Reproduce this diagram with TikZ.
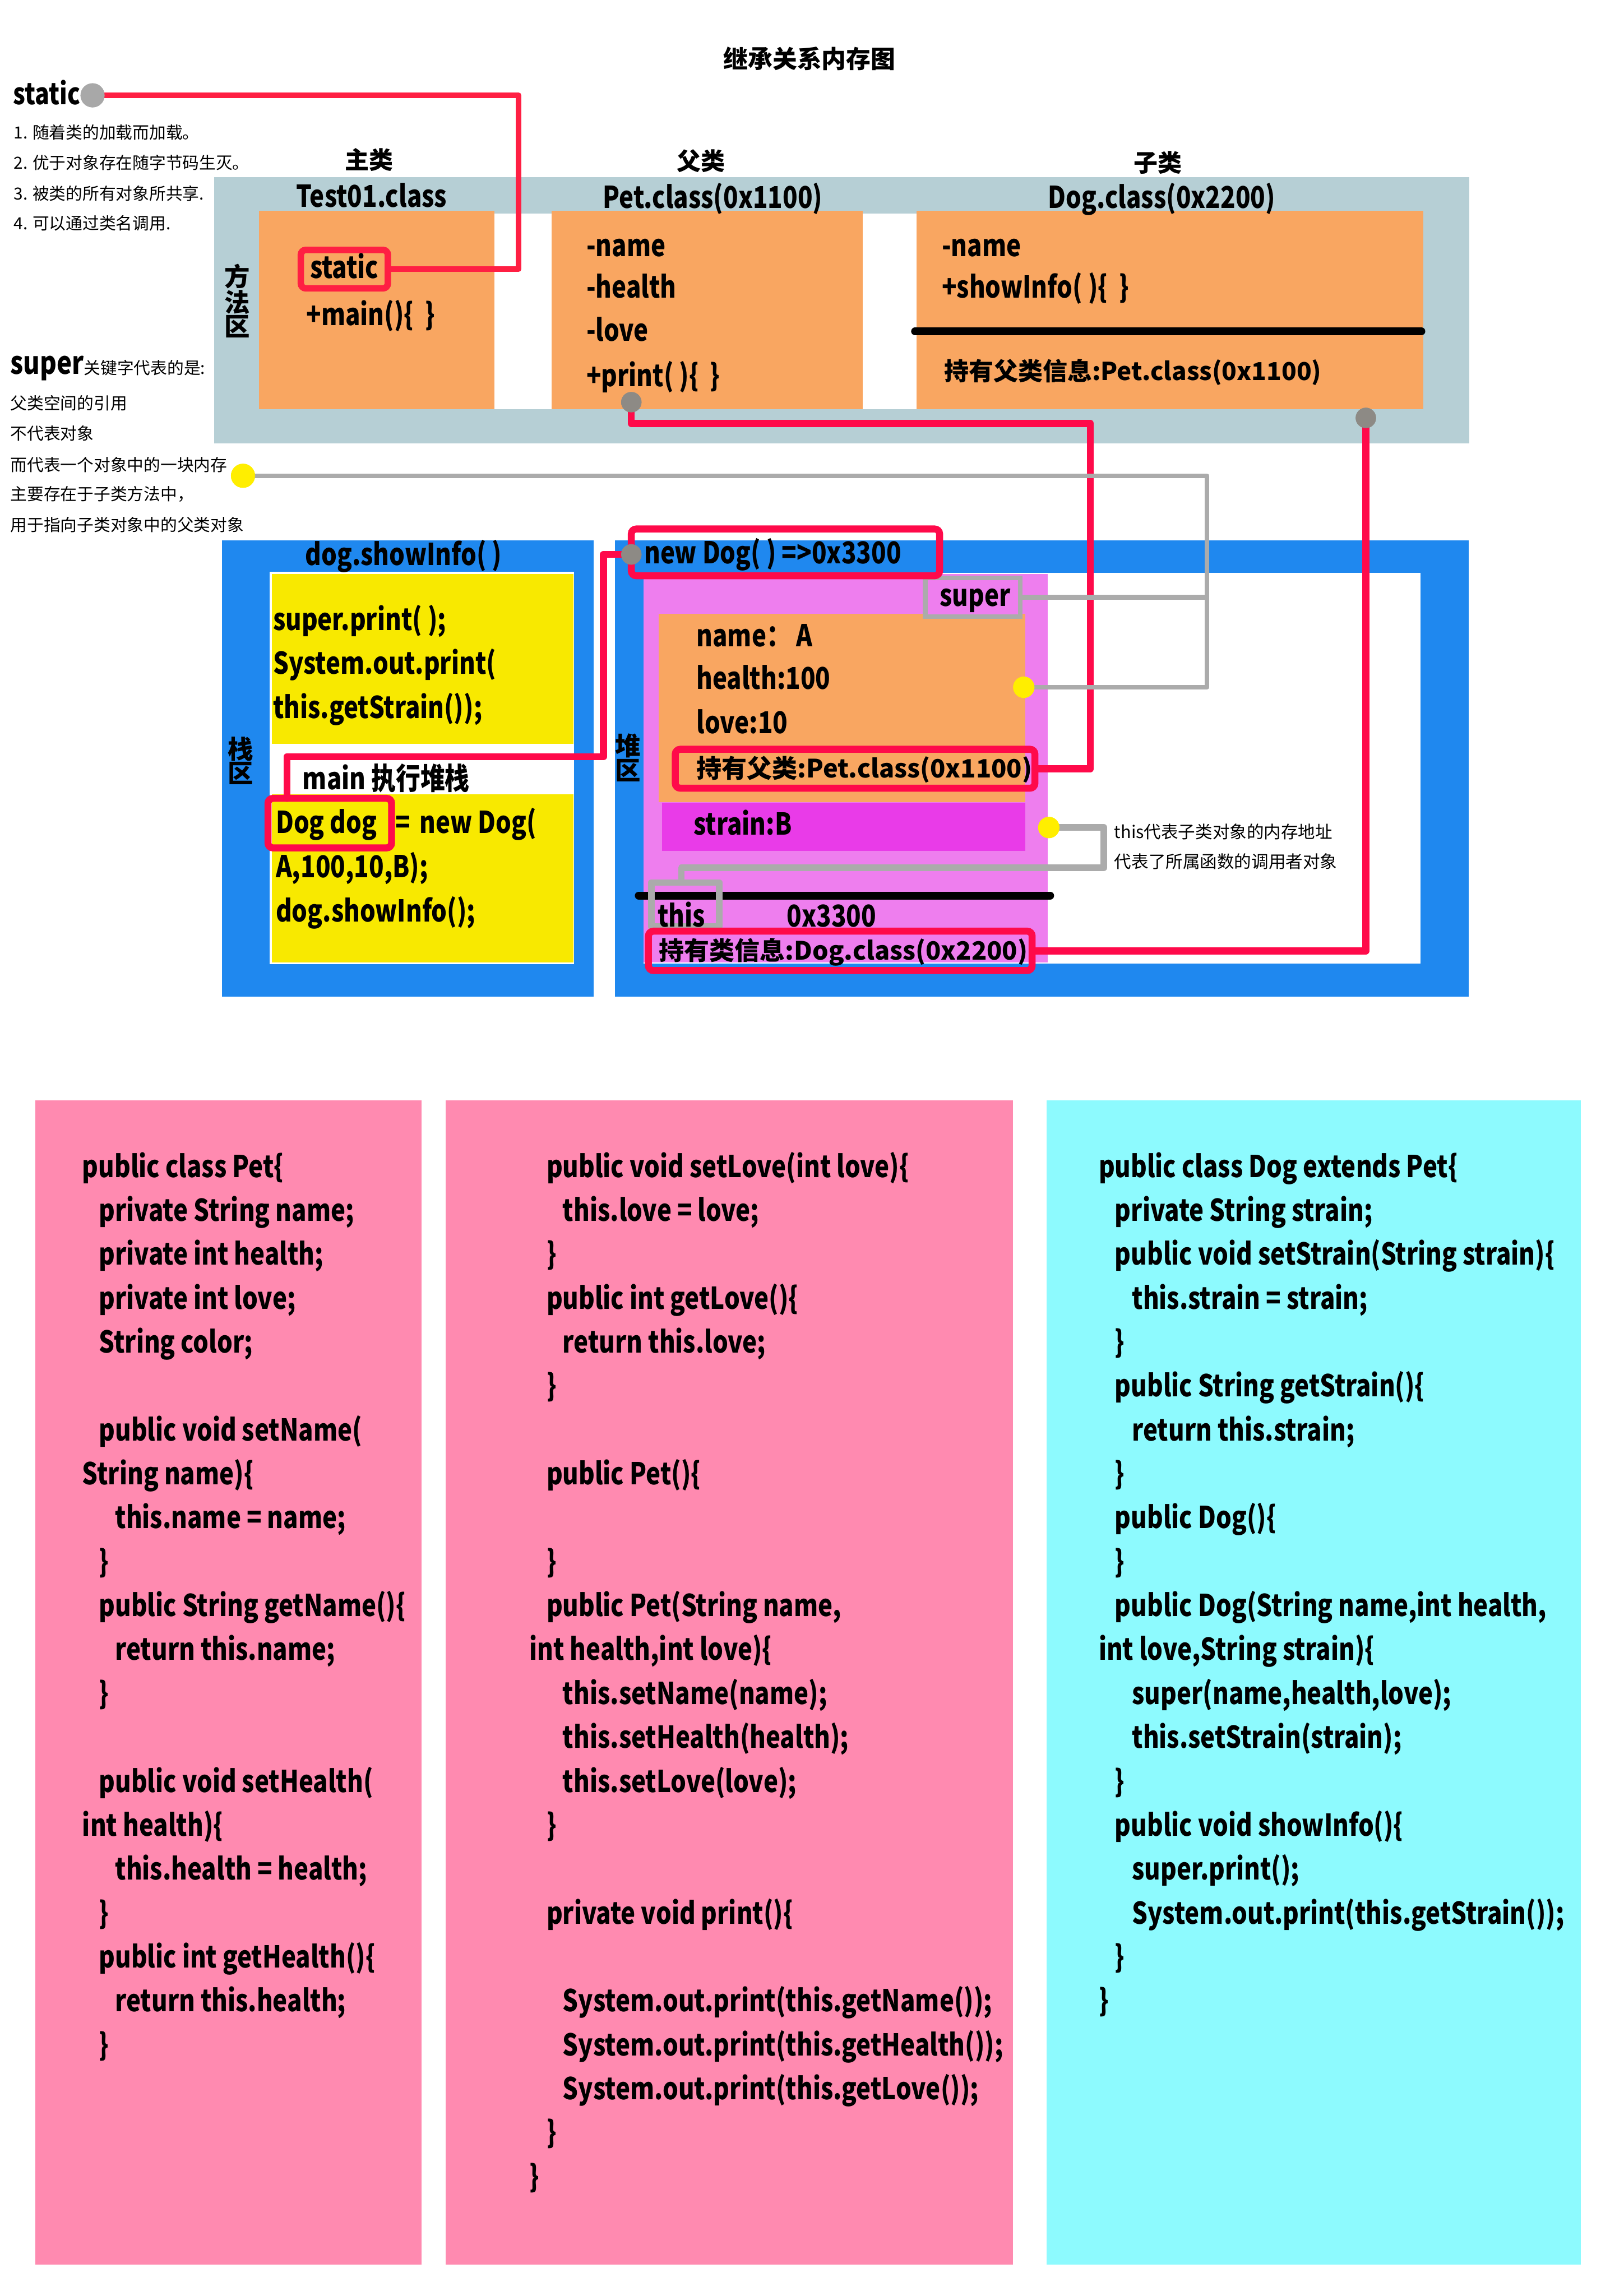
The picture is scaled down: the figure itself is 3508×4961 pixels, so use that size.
\documentclass[tikz,border=0pt]{standalone}
\usepackage{fontspec}
\setmainfont{Noto Sans CJK SC}
\newfontfamily\latn{Noto Sans CJK SC}[FakeStretch=0.815]
\usetikzlibrary{fit,calc}
\definecolor{mgray}{HTML}{B6CFD5}
\definecolor{orng}{HTML}{F9A661}
\definecolor{hblue}{HTML}{1F88EF}
\definecolor{syel}{HTML}{F8E900}
\definecolor{vio}{HTML}{EE7EEE}
\definecolor{mag}{HTML}{E93BE8}
\definecolor{redl}{HTML}{FF0A4A}
\definecolor{reds}{HTML}{FF1F43}
\definecolor{grayl}{HTML}{ABABAB}
\definecolor{dotg}{HTML}{8D8A85}
\definecolor{dotg2}{HTML}{A8A8A8}
\definecolor{doty}{HTML}{FFEE00}
\definecolor{cpink}{HTML}{FF8AB0}
\definecolor{ccyan}{HTML}{8DFAFE}
\newcommand\fpx[1]{\fontsize{#1}{#1}\selectfont}
\begin{document}
\begin{tikzpicture}[x=0.01cm,y=-0.01cm,
  box/.style={inner sep=0pt,outer sep=0pt,fit={#1}},
  lbl/.style={inner sep=0pt,outer sep=0pt,yshift=-0.1cm,font=\latn\bfseries\fpx{18.5pt}},
  code/.style={lbl,anchor=mid west},
  mix/.style={code,font=\bfseries\fpx{#1}},
  cjk/.style={inner sep=0pt,font=\bfseries\fpx{14.8pt}},
  vlbl/.style={inner sep=0pt,align=center,font=\bfseries\fontsize{15.65pt}{14.9pt}\selectfont},
  nt/.style={inner sep=0pt,anchor=west,font=\fpx{10.24pt}},
  dot/.style={circle,inner sep=0pt,minimum size=0.46cm,draw=none},
  redbox/.style={draw=redl,line width=4.3pt,rounded corners=3pt},
  redln/.style={draw=redl,line width=4.3pt,line join=round,line cap=round},
  sredln/.style={draw=reds,line width=3.6pt,line join=round,line cap=round},
  grayln/.style={draw=grayl,line width=2.8pt,line join=round},
  graythk/.style={draw=grayl,line width=4pt,line join=round},
  blk/.style={draw=black,line width=4.8pt,line cap=round}
]
\useasboundingbox (0,0) rectangle (3508,4961);
\fill[white] (0,0) rectangle (3508,4961);

% ---------- title ----------
\node[inner sep=0pt,font=\bfseries\fpx{15.08pt}] (title) at (1749,127) {继承关系内存图};

% ---------- method area ----------
\node[box={(463,383) (3174,958)},fill=mgray] (marea) {};
\node[box={(560,461) (3075,884)},fill=white] (mwhite) {};
\node[box={(560,456) (1068,884)},fill=orng] (tbox) {};
\node[box={(1192,456) (1864,884)},fill=orng] (pbox) {};
\node[box={(1980,456) (3075,884)},fill=orng] (dbox) {};

\node[cjk] (lzl) at (797,345) {主类};
\node[cjk] (lfl) at (1515,348) {父类};
\node[cjk] (lzil) at (2502,351) {子类};
\node[lbl,anchor=mid] (ltest) at (803,428) {Test01.class};
\node[lbl,anchor=mid] (lpet) at (1540,430) {Pet.class(0x1100)};
\node[lbl,anchor=mid] (ldog) at (2510,431) {Dog.class(0x2200)};
\node[vlbl] (lfff) at (513,650) {方\\法\\区};

\node[box={(650,540) (838,623)},draw=reds,line width=4pt,rounded corners=3pt] (sbox) {};
\node[lbl,anchor=mid] (sboxt) at (744,582) {static};
\node[code] (mainm) at (662,683) {+main()\{~~\}};

\node[code] (pn) at (1267,534) {-name};
\node[code] (ph) at (1267,624) {-health};
\node[code] (plv) at (1267,718) {-love};
\node[code] (ppr) at (1267,815) {+print(~)\{~~\}};

\node[code] (dn) at (2035,534) {-name};
\node[code] (dsi) at (2035,624) {+showInfo(~)\{~~\}};
\coordinate (dl1) at (1977,716);
\coordinate (dl2) at (3071,716);
\draw[blk] (dl1) -- (dl2);
\node[mix=15.15pt] (dpar) at (2040,802) {持有父类信息:Pet.class(0x1100)};

% ---------- left notes ----------
\node[lbl,anchor=mid west,font=\latn\bfseries\fpx{18.1pt}] (lstatic) at (29,206) {static};
\node[nt] (n1) at (29,286) {1. 随着类的加载而加载。};
\node[nt] (n2) at (29,351) {2. 优于对象存在随字节码生灭。};
\node[nt] (n3) at (29,418) {3. 被类的所有对象所共享.};
\node[nt] (n4) at (29,482) {4. 可以通过类名调用.};
\node[inner sep=0pt,anchor=base west] (lsuper) at (22,808) {{\latn\bfseries\fpx{19.2pt}super}{\fpx{10.24pt}关键字代表的是:}};
\node[nt] (s1) at (22,871) {父类空间的引用};
\node[nt] (s2) at (22,937) {不代表对象};
\node[nt] (s3) at (22,1004) {而代表一个对象中的一块内存};
\node[nt] (s4) at (22,1068) {主要存在于子类方法中，};
\node[nt] (s5) at (22,1134) {用于指向子类对象中的父类对象};

% ---------- stack ----------
\node[box={(480,1168) (1283,2153)},fill=hblue] (stk) {};
\node[box={(583,1236) (1240,2083)},fill=white] (stkw) {};
\node[box={(588,1240) (1239,1607)},fill=syel] (sy1) {};
\node[box={(588,1716) (1239,2080)},fill=syel] (sy2) {};
\node[lbl,anchor=mid] (lshow) at (872,1202) {dog.showInfo(~)};
\node[vlbl] (lzhan) at (520,1644) {栈\\区};
\node[code] (y1) at (590,1342) {super.print(~);};
\node[code] (y2) at (590,1437) {System.out.print(};
\node[code] (y3) at (590,1532) {this.getStrain());};
\node[code] (lmain) at (654,1686) {main 执行堆栈};
\node[code] (dd1) at (596,1781) {Dog dog};
\node[code] (dd1b) at (855,1781) {=};
\node[code] (dd1c) at (907,1781) {new Dog(};
\node[code] (dd2) at (596,1877) {A,100,10,B);};
\node[code] (dd3) at (596,1972) {dog.showInfo();};
\node[box={(579,1725) (846,1832)},redbox] (dogbox) {};

% ---------- heap ----------
\node[box={(1329,1168) (3173,2153)},fill=hblue] (heap) {};
\node[box={(1391,1238) (3069,2082)},fill=white] (heapw) {};
\node[box={(1391,1240) (2264,2079)},fill=vio] (obj) {};
\node[vlbl] (ldui) at (1357,1637) {堆\\区};
\node[box={(1423,1326) (2215,1733)},fill=orng] (pobj) {};
\node[box={(1999,1249) (2204,1332)},fill=vio,draw=grayl,line width=2.8pt] (supbox) {};
\node[lbl,anchor=mid] (lsup) at (2107,1290) {super};
\node[code] (on) at (1505,1377) {name：~A};
\node[code] (oh) at (1505,1470) {health:100};
\node[code] (ol) at (1505,1565) {love:10};
\node[box={(1459,1619) (2236,1703)},redbox] (parbox) {};
\node[mix=15.5pt] (lpar) at (1505,1661) {持有父类:Pet.class(0x1100)};
\node[box={(1430,1735) (2215,1838)},fill=mag] (strbox) {};
\node[code] (lstr) at (1499,1784) {strain:B};
\coordinate (bl1) at (1380,1935);
\coordinate (bl2) at (2269,1935);
\draw[blk] (bl1) -- (bl2);
\node[box={(1407,1907) (1554,2002)},graythk] (thisbox) {};
\node[code] (lthis) at (1421,1983) {this};
\node[code] (laddr) at (1700,1983) {0x3300};
\node[box={(1401,2012) (2230,2097)},redbox] (clsbox) {};
\node[mix=15.5pt] (lcls) at (1424,2054) {持有类信息:Dog.class(0x2200)};
\node[box={(1364,1143) (2030,1244)},redbox] (newbox) {};
\node[code] (lnew) at (1392,1198) {new Dog(~) =>0x3300};
\node[nt,font=\fpx{10.53pt}] (tn1) at (2407,1797) {this代表子类对象的内存地址};
\node[nt,font=\fpx{10.53pt}] (tn2) at (2407,1861) {代表了所属函数的调用者对象};

% ---------- dots (positions) ----------
\node[dot,fill=dotg2,minimum size=0.52cm] (sdot) at (200,206) {};
\node[dot,fill=dotg,minimum size=0.44cm] (pdot) at (1364,869) {};
\node[dot,fill=dotg,minimum size=0.44cm] (ddot) at (2951,903) {};
\node[dot,fill=dotg,minimum size=0.44cm] (ndot) at (1364,1198) {};
\node[dot,fill=doty,minimum size=0.52cm] (ydot1) at (525,1028) {};
\node[dot,fill=doty] (ydot2) at (2212,1485) {};
\node[dot,fill=doty] (ydot3) at (2266,1788) {};

% ---------- connectors ----------
\coordinate (c1) at (1120,206);
\draw[sredln] (sdot.center) -- (c1) |- (sbox.east);
\coordinate (c2) at (2356,915);
\draw[redln] (pdot.center) |- (c2) |- (parbox.east);
\draw[redln] (ddot.center) |- (clsbox.east);
\coordinate (c3) at (620,1635);
\coordinate (c4) at (1304,1635);
\draw[redln] (c3 |- dogbox.north) -- (c3) -- (c4) |- (ndot.center);
\coordinate (c5) at (2608,1028);
\draw[grayln] (ydot1.center) -- (c5) |- (ydot2.center);
\draw[grayln] (supbox.east) -- (supbox.east -| c5);
\coordinate (c6) at (2385,1875);
\coordinate (c7) at (1472,1875);
\draw[graythk] (ydot3.center) -| (c6) -- (c7) -- (c7 |- thisbox.north);

% redraw dots on top
\node[dot,fill=dotg2,minimum size=0.52cm] (sdotb) at (sdot) {};
\node[dot,fill=dotg,minimum size=0.44cm] (pdotb) at (pdot) {};
\node[dot,fill=dotg,minimum size=0.44cm] (ddotb) at (ddot) {};
\node[dot,fill=dotg,minimum size=0.44cm] (ndotb) at (ndot) {};
\node[dot,fill=doty,minimum size=0.52cm] (ydot1b) at (ydot1) {};
\node[dot,fill=doty] (ydot2b) at (ydot2) {};
\node[dot,fill=doty] (ydot3b) at (ydot3) {};

% ---------- code panels ----------
\node[box={(76,2377) (911,4893)},fill=cpink] (panA) {};
\node[box={(963,2377) (2188,4893)},fill=cpink] (panB) {};
\node[box={(2261,2377) (3416,4893)},fill=ccyan] (panC) {};

% panel A
\node[code] (a0) at (178,2524+94.9*0) {public class Pet\{};
\node[code] (a1) at (214,2524+94.9*1) {private String name;};
\node[code] (a2) at (214,2524+94.9*2) {private int health;};
\node[code] (a3) at (214,2524+94.9*3) {private int love;};
\node[code] (a4) at (214,2524+94.9*4) {String color;};
\node[code] (a6) at (214,2524+94.9*6) {public void setName(};
\node[code] (a7) at (178,2524+94.9*7) {String name)\{};
\node[code] (a8) at (249,2524+94.9*8) {this.name = name;};
\node[code] (a9) at (214,2524+94.9*9) {\}};
\node[code] (a10) at (214,2524+94.9*10) {public String getName()\{};
\node[code] (a11) at (249,2524+94.9*11) {return this.name;};
\node[code] (a12) at (214,2524+94.9*12) {\}};
\node[code] (a14) at (214,2524+94.9*14) {public void setHealth(};
\node[code] (a15) at (178,2524+94.9*15) {int health)\{};
\node[code] (a16) at (249,2524+94.9*16) {this.health = health;};
\node[code] (a17) at (214,2524+94.9*17) {\}};
\node[code] (a18) at (214,2524+94.9*18) {public int getHealth()\{};
\node[code] (a19) at (249,2524+94.9*19) {return this.health;};
\node[code] (a20) at (214,2524+94.9*20) {\}};

% panel B
\node[code] (b0) at (1181,2524+94.9*0) {public void setLove(int love)\{};
\node[code] (b1) at (1216,2524+94.9*1) {this.love = love;};
\node[code] (b2) at (1181,2524+94.9*2) {\}};
\node[code] (b3) at (1181,2524+94.9*3) {public int getLove()\{};
\node[code] (b4) at (1216,2524+94.9*4) {return this.love;};
\node[code] (b5) at (1181,2524+94.9*5) {\}};
\node[code] (b7) at (1181,2524+94.9*7) {public Pet()\{};
\node[code] (b9) at (1181,2524+94.9*9) {\}};
\node[code] (b10) at (1181,2524+94.9*10) {public Pet(String name,};
\node[code] (b11) at (1144,2524+94.9*11) {int health,int love)\{};
\node[code] (b12) at (1216,2524+94.9*12) {this.setName(name);};
\node[code] (b13) at (1216,2524+94.9*13) {this.setHealth(health);};
\node[code] (b14) at (1216,2524+94.9*14) {this.setLove(love);};
\node[code] (b15) at (1181,2524+94.9*15) {\}};
\node[code] (b17) at (1181,2524+94.9*17) {private void print()\{};
\node[code] (b19) at (1216,2524+94.9*19) {System.out.print(this.getName());};
\node[code] (b20) at (1216,2524+94.9*20) {System.out.print(this.getHealth());};
\node[code] (b21) at (1216,2524+94.9*21) {System.out.print(this.getLove());};
\node[code] (b22) at (1181,2524+94.9*22) {\}};
\node[code] (b23) at (1144,2524+94.9*23) {\}};

% panel C
\node[code] (k0) at (2374,2524+94.9*0) {public class Dog extends Pet\{};
\node[code] (k1) at (2409,2524+94.9*1) {private String strain;};
\node[code] (k2) at (2409,2524+94.9*2) {public void setStrain(String strain)\{};
\node[code] (k3) at (2446,2524+94.9*3) {this.strain = strain;};
\node[code] (k4) at (2409,2524+94.9*4) {\}};
\node[code] (k5) at (2409,2524+94.9*5) {public String getStrain()\{};
\node[code] (k6) at (2446,2524+94.9*6) {return this.strain;};
\node[code] (k7) at (2409,2524+94.9*7) {\}};
\node[code] (k8) at (2409,2524+94.9*8) {public Dog()\{};
\node[code] (k9) at (2409,2524+94.9*9) {\}};
\node[code] (k10) at (2409,2524+94.9*10) {public Dog(String name,int health,};
\node[code] (k11) at (2374,2524+94.9*11) {int love,String strain)\{};
\node[code] (k12) at (2446,2524+94.9*12) {super(name,health,love);};
\node[code] (k13) at (2446,2524+94.9*13) {this.setStrain(strain);};
\node[code] (k14) at (2409,2524+94.9*14) {\}};
\node[code] (k15) at (2409,2524+94.9*15) {public void showInfo()\{};
\node[code] (k16) at (2446,2524+94.9*16) {super.print();};
\node[code] (k17) at (2446,2524+94.9*17) {System.out.print(this.getStrain());};
\node[code] (k18) at (2409,2524+94.9*18) {\}};
\node[code] (k19) at (2374,2524+94.9*19) {\}};
\end{tikzpicture}
\end{document}
